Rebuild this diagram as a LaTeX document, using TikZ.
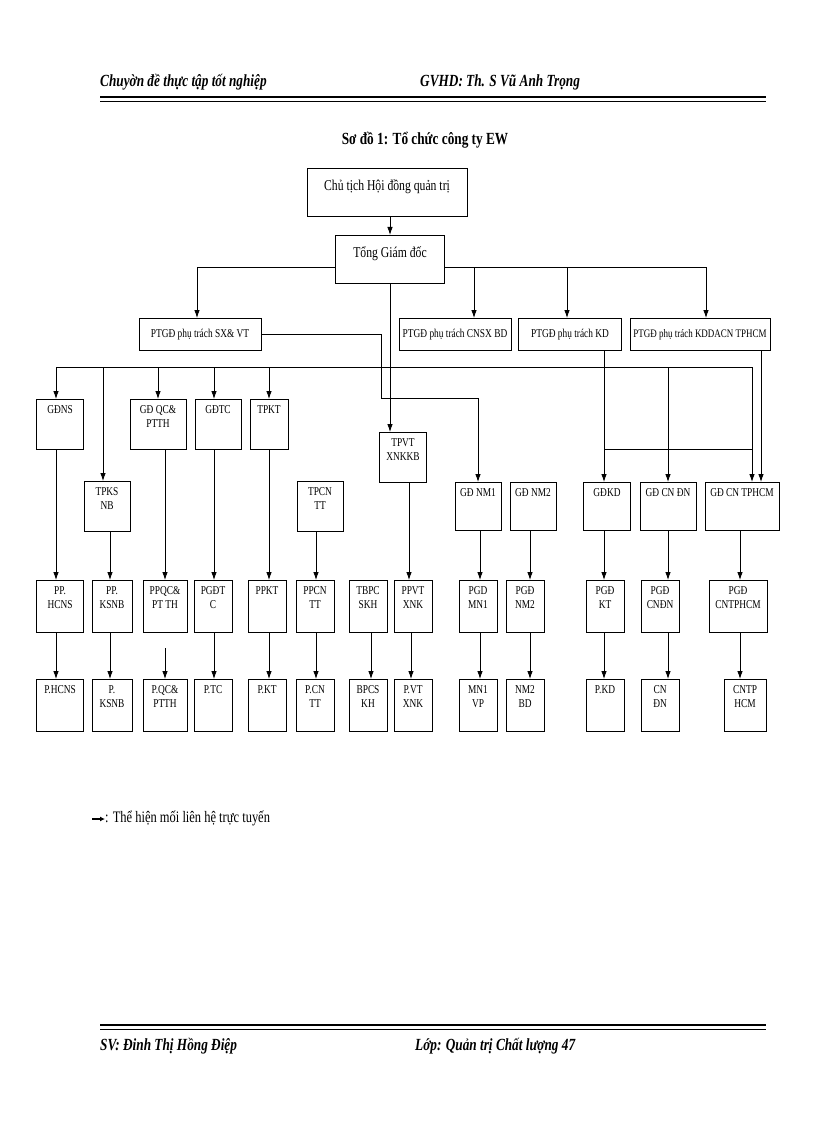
\documentclass[tikz,border=0pt]{standalone}
\usepackage{fontspec}
\setmainfont{Liberation Serif}[FakeStretch=0.78]
\usetikzlibrary{arrows.meta}
\newcommand{\bx}[6]{\node[bx,minimum width=#4pt,minimum height=#5pt,anchor=north,label={[lbl]north:#6}] (#1) at (#2,#3) {};}
\begin{document}
\begin{tikzpicture}[x=1pt,y=-1pt,
  bx/.style={draw,line width=1pt,inner sep=0pt},
  lbl/.style={anchor=north,yshift=-6pt,align=center,font=\fontsize{12}{14}\selectfont,inner sep=0pt},
  arr/.style={-{Latex[length=8pt,width=5.5pt]},line width=0.8pt},
  ln/.style={line width=0.8pt},
  hdr/.style={font=\fontsize{17}{19}\selectfont\itshape\bfseries,anchor=west,inner sep=0pt}]
\useasboundingbox (0,0) rectangle (816,1123);
% header / footer
\node[hdr] (h1) at (100,82) {Chuyờn đề thực tập tốt nghiệp};
\node[hdr] (h2) at (420,82) {GVHD: Th. S Vũ Anh Trọng};
\draw[line width=2.2pt] (100,97) -- (766,97);
\draw[line width=0.8pt] (100,101.5) -- (766,101.5);
\draw[line width=2.2pt] (100,1025) -- (766,1025);
\draw[line width=0.8pt] (100,1029.5) -- (766,1029.5);
\node[hdr] (f1) at (100,1046) {SV: Đinh Thị Hồng Điệp};
\node[hdr] (f2) at (415,1046) {Lớp: Quản trị Chất lượng 47};
\node[font=\fontsize{17}{19}\selectfont\bfseries] (title) at (425,140) {Sơ đồ 1: Tổ chức công ty EW};
% top
\node[bx,minimum width=160pt,minimum height=48pt,anchor=north,label={[lbl,yshift=-5pt,font=\fontsize{15}{17}\selectfont]north:Chủ tịch Hội đồng quản trị}] (ct) at (387,168) {};
\node[bx,minimum width=109pt,minimum height=48pt,anchor=north,label={[lbl,yshift=-5pt,font=\fontsize{15}{17}\selectfont]north:Tổng Giám đốc}] (tgd) at (390,235) {};
% row 2
\tikzset{r2/.style={bx,minimum height=32pt,anchor=north,font=\fontsize{12}{14}\selectfont}}
\node[r2,minimum width=122pt] (p1) at (200,318) {PTGĐ phụ trách SX\& VT};
\node[r2,minimum width=112pt] (p2) at (455,318) {PTGĐ phụ trách CNSX BD};
\node[r2,minimum width=103pt] (p3) at (570,318) {PTGĐ phụ trách KD};
\node[r2,minimum width=140pt,font=\fontsize{11.5}{13}\selectfont] (p4) at (700,318) {PTGĐ phụ trách KDDACN TPHCM};
% row 3
\bx{gdns}{60}{399}{47}{50}{GĐNS}
\bx{gdqc}{158}{399}{56}{50}{GĐ QC\&\\PTTH}
\bx{gdtc}{218}{399}{46}{50}{GĐTC}
\bx{tpkt}{269}{399}{38}{50}{TPKT}
\bx{tpvt}{403}{432}{47}{50}{TPVT\\XNKKB}
\bx{tpks}{107}{481}{46}{50}{TPKS\\NB}
\bx{tpcn}{320}{481}{46}{50}{TPCN\\TT}
\bx{nm1}{478}{482}{46}{48}{GĐ NM1}
\bx{nm2}{533}{482}{46}{48}{GĐ NM2}
\bx{gdkd}{607}{482}{47}{48}{GĐKD}
\bx{gddn}{668}{482}{56}{48}{GĐ CN ĐN}
\bx{gdhcm}{742}{482}{74}{48}{GĐ CN TPHCM}
% PP row
\bx{a1}{60}{580}{47}{52}{PP.\\HCNS}
\bx{a2}{112}{580}{40}{52}{PP.\\KSNB}
\bx{a3}{165}{580}{44}{52}{PPQC\&\\PT TH}
\bx{a4}{213}{580}{38}{52}{PGĐT\\C}
\bx{a5}{267}{580}{38}{52}{PPKT}
\bx{a6}{315}{580}{38}{52}{PPCN\\TT}
\bx{a7}{368}{580}{38}{52}{TBPC\\SKH}
\bx{a8}{413}{580}{38}{52}{PPVT\\XNK}
\bx{a9}{478}{580}{38}{52}{PGD\\MN1}
\bx{a10}{525}{580}{38}{52}{PGĐ\\NM2}
\bx{a11}{605}{580}{38}{52}{PGĐ\\KT}
\bx{a12}{660}{580}{38}{52}{PGĐ\\CNĐN}
\bx{a13}{738}{580}{58}{52}{PGĐ\\CNTPHCM}
% bottom row
\bx{b1}{60}{679}{47}{52}{P.HCNS}
\bx{b2}{112}{679}{40}{52}{P.\\KSNB}
\bx{b3}{165}{679}{44}{52}{P.QC\&\\PTTH}
\bx{b4}{213}{679}{38}{52}{P.TC}
\bx{b5}{267}{679}{38}{52}{P.KT}
\bx{b6}{315}{679}{38}{52}{P.CN\\TT}
\bx{b7}{368}{679}{38}{52}{BPCS\\KH}
\bx{b8}{413}{679}{38}{52}{P.VT\\XNK}
\bx{b9}{478}{679}{38}{52}{MN1\\VP}
\bx{b10}{525}{679}{38}{52}{NM2\\BD}
\bx{b11}{605}{679}{38}{52}{P.KD}
\bx{b12}{660}{679}{38}{52}{CN\\ĐN}
\bx{b13}{745}{679}{42}{52}{CNTP\\HCM}
% connectors top
\draw[arr] (ct.south -| tgd.north) -- (tgd.north);
\draw[ln] (197,267) -- (tgd.west |- 0,267);
\draw[ln] (tgd.east |- 0,267) -- (706,267);
\draw[arr] (197,267) -- (197,0 |- p1.north);
\draw[arr] (474,267) -- (474,0 |- p2.north);
\draw[arr] (567,267) -- (567,0 |- p3.north);
\draw[arr] (706,267) -- (706,0 |- p4.north);
\draw[arr] (tgd.south) -- (tgd.south |- tpvt.north);
\draw[arr] (p1.east) -| (381,398) -| (nm1.north);
% bar
\draw[ln] (56,367) -- (752,367);
\draw[arr] (56,367) -- (56,0 |- gdns.north);
\draw[arr] (103,367) -- (103,0 |- tpks.north);
\draw[arr] (158,367) -- (gdqc.north);
\draw[arr] (214,367) -- (214,0 |- gdtc.north);
\draw[arr] (269,367) -- (tpkt.north);
\draw[arr] (668,367) -- (gddn.north);
\draw[arr] (752,367) -- (752,0 |- gdhcm.north);
\draw[arr] (604,0 |- p3.south) -- (604,0 |- gdkd.north);
\draw[ln] (604,449) -- (752,449);
\draw[arr] (761,0 |- p4.south) -- (761,0 |- gdhcm.north);
% mid verticals
\draw[arr] (56,0 |- gdns.south) -- (56,0 |- a1.north);
\draw[arr] (110,0 |- tpks.south) -- (110,0 |- a2.north);
\draw[arr] (165,0 |- gdqc.south) -- (a3.north);
\draw[arr] (214,0 |- gdtc.south) -- (214,0 |- a4.north);
\draw[arr] (269,0 |- tpkt.south) -- (269,0 |- a5.north);
\draw[arr] (316,0 |- tpcn.south) -- (316,0 |- a6.north);
\draw[arr] (409,0 |- tpvt.south) -- (409,0 |- a8.north);
\draw[arr] (480,0 |- nm1.south) -- (480,0 |- a9.north);
\draw[arr] (530,0 |- nm2.south) -- (530,0 |- a10.north);
\draw[arr] (604,0 |- gdkd.south) -- (604,0 |- a11.north);
\draw[arr] (668,0 |- gddn.south) -- (668,0 |- a12.north);
\draw[arr] (740,0 |- gdhcm.south) -- (740,0 |- a13.north);
% lower verticals
\draw[arr] (56,0 |- a1.south) -- (56,0 |- b1.north);
\draw[arr] (110,0 |- a2.south) -- (110,0 |- b2.north);
\coordinate (qcs) at (165,648);
\draw[arr] (qcs) -- (b3.north);
\draw[arr] (214,0 |- a4.south) -- (214,0 |- b4.north);
\draw[arr] (269,0 |- a5.south) -- (269,0 |- b5.north);
\draw[arr] (316,0 |- a6.south) -- (316,0 |- b6.north);
\draw[arr] (371,0 |- a7.south) -- (371,0 |- b7.north);
\draw[arr] (411,0 |- a8.south) -- (411,0 |- b8.north);
\draw[arr] (480,0 |- a9.south) -- (480,0 |- b9.north);
\draw[arr] (530,0 |- a10.south) -- (530,0 |- b10.north);
\draw[arr] (604,0 |- a11.south) -- (604,0 |- b11.north);
\draw[arr] (668,0 |- a12.south) -- (668,0 |- b12.north);
\draw[arr] (740,0 |- a13.south) -- (740,0 |- b13.north);
% legend
\coordinate (lg0) at (92,819);
\coordinate (lg1) at (105,819);
\draw[-{Latex[length=5pt,width=5pt]},line width=1.2pt] (lg0) -- (lg1);
\node[anchor=west,inner sep=0pt,font=\fontsize{16}{18}\selectfont] (leg) at (105,818) {: Thể hiện mối liên hệ trực tuyến};
\end{tikzpicture}
\end{document}
